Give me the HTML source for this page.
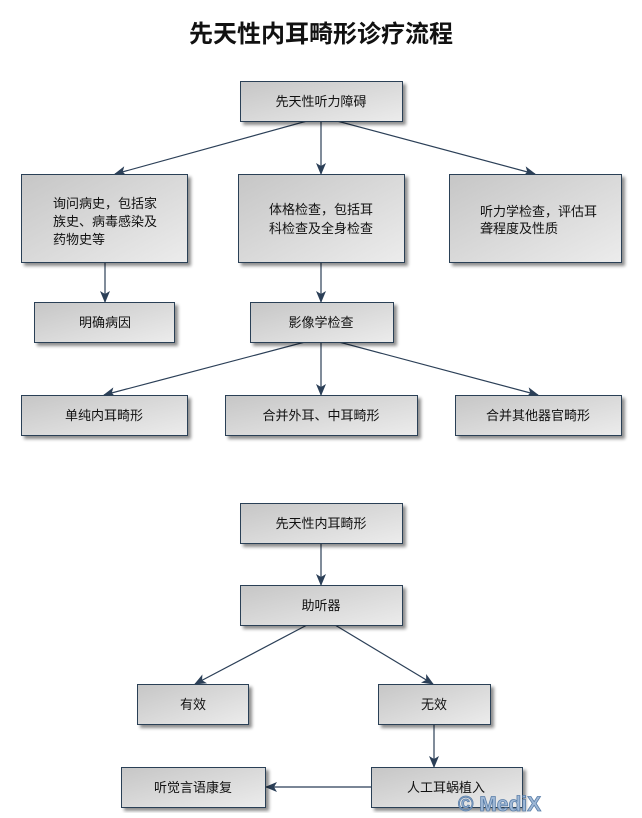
<!DOCTYPE html>
<html><head><meta charset="utf-8"><style>
html,body{margin:0;padding:0;background:#fff;}
svg text{font-family:"Liberation Sans","Noto Sans CJK SC",sans-serif;font-size:13px;fill:#111;}
</style></head><body>
<svg width="642" height="813" viewBox="0 0 642 813" xmlns="http://www.w3.org/2000/svg">
<defs>
<linearGradient id="g" x1="0" y1="0" x2="1" y2="1">
<stop offset="0" stop-color="#c6c6c6"/><stop offset="1" stop-color="#ececec"/></linearGradient>
<filter id="s" x="-10%" y="-10%" width="130%" height="140%"><feGaussianBlur in="SourceAlpha" stdDeviation="1.5"/><feOffset dx="3" dy="3"/><feComponentTransfer><feFuncA type="linear" slope="0.45"/></feComponentTransfer><feMerge><feMergeNode/><feMergeNode in="SourceGraphic"/></feMerge></filter>
<marker id="a" markerWidth="12" markerHeight="10" refX="11" refY="5" orient="auto" markerUnits="userSpaceOnUse"><path d="M0,0 L12,5 L0,10 L3,5 Z" fill="#2b3f57"/></marker>
</defs>
<text x="321" y="42" text-anchor="middle" style="font-size:24px;font-weight:bold;">先天性内耳畸形诊疗流程</text>
<g stroke="#2b3f57" stroke-width="1.2" fill="none" marker-end="url(#a)">
<line x1="307" y1="121" x2="115" y2="174"/>
<line x1="321" y1="121" x2="321" y2="174"/>
<line x1="337" y1="121" x2="535" y2="174"/>
<line x1="105" y1="262" x2="105" y2="302"/>
<line x1="321" y1="262" x2="321" y2="302"/>
<line x1="305" y1="342" x2="104" y2="395"/>
<line x1="321" y1="342" x2="321" y2="395"/>
<line x1="339" y1="342" x2="538" y2="395"/>
<line x1="321" y1="543" x2="321" y2="585"/>
<line x1="307" y1="625" x2="195" y2="684"/>
<line x1="335" y1="625" x2="433" y2="684"/>
<line x1="434" y1="724" x2="434" y2="767"/>
<line x1="371" y1="787" x2="266" y2="787"/>
</g>
<g fill="url(#g)" stroke="#2b3f57" stroke-width="1" filter="url(#s)">
<rect x="240.5" y="81.5" width="162" height="40"/>
<rect x="21.5" y="174.5" width="166" height="88"/>
<rect x="238.5" y="174.5" width="166" height="88"/>
<rect x="449.5" y="174.5" width="172" height="88"/>
<rect x="34.5" y="302.5" width="140" height="40"/>
<rect x="250.5" y="302.5" width="143" height="40"/>
<rect x="21.5" y="395.5" width="166" height="40"/>
<rect x="225.5" y="395.5" width="192" height="40"/>
<rect x="455.5" y="395.5" width="166" height="40"/>
<rect x="240.5" y="503.5" width="162" height="40"/>
<rect x="240.5" y="585.5" width="162" height="40"/>
<rect x="137.5" y="684.5" width="111" height="40"/>
<rect x="378.5" y="684.5" width="112" height="40"/>
<rect x="121.5" y="767.5" width="144" height="40"/>
<rect x="371.5" y="767.5" width="151" height="40"/>
</g>
<g text-anchor="middle">
<text x="321" y="106">先天性听力障碍</text>
<text x="321" y="214">体格检查，包括耳</text>
<text x="321" y="233">科检查及全身检查</text>
<text x="105" y="327">明确病因</text>
<text x="321" y="327">影像学检查</text>
<text x="104" y="420">单纯内耳畸形</text>
<text x="321" y="420">合并外耳、中耳畸形</text>
<text x="538" y="420">合并其他器官畸形</text>
<text x="321" y="528">先天性内耳畸形</text>
<text x="321" y="610">助听器</text>
<text x="193" y="709">有效</text>
<text x="434" y="709">无效</text>
<text x="193" y="792">听觉言语康复</text>
<text x="446" y="792">人工耳蜗植入</text>
</g>
<g>
<text x="53" y="208">询问病史，包括家</text>
<text x="53" y="226">族史、病毒感染及</text>
<text x="53" y="244">药物史等</text>
<text x="480" y="216">听力学检查，评估耳</text>
<text x="480" y="233">聋程度及性质</text>
</g>
<text x="458" y="811" style="font-size:21px;font-weight:bold;fill:#9fb8d6;stroke:#5a7ea8;stroke-width:0.8;">© MediX</text>
</svg>
</body></html>
